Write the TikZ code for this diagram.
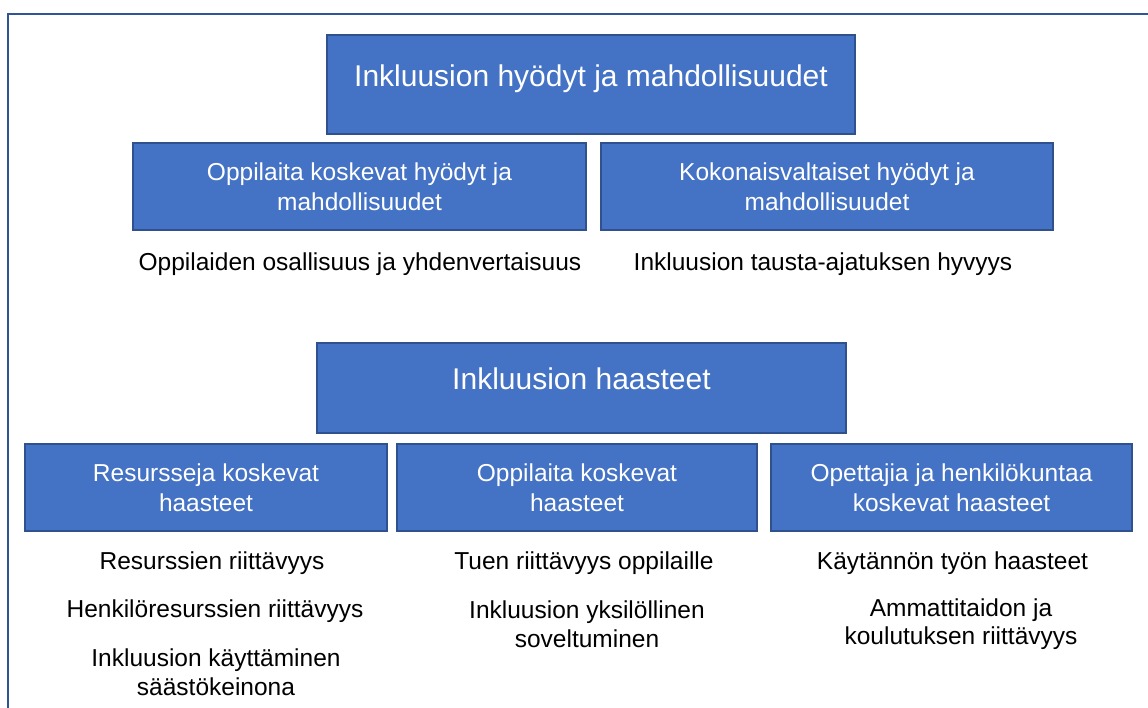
\documentclass[tikz,border=0pt]{standalone}
\usepackage{fontspec}
\setmainfont{Liberation Sans}
\definecolor{boxblue}{HTML}{4472C4}
\definecolor{boxedge}{HTML}{2F528F}
\definecolor{frameblue}{HTML}{2F5597}
\begin{document}
\begin{tikzpicture}[x=1pt,y=-1pt,
 box/.style={draw=boxedge,fill=boxblue,line width=1.6pt,text=white,align=center,inner sep=0pt,
  font=\fontsize{24.5}{29.5}\selectfont},
 headbox/.style={box,font=\fontsize{30}{36}\selectfont,text height=22pt,text depth=19pt},
 item/.style={align=center,inner sep=0pt,font=\fontsize{24.5}{28.5}\selectfont}]
 \useasboundingbox (0,0) rectangle (1148,707);
 \draw[frameblue,line width=2pt] (7.5,708)--(7.5,14)--(1149,14);
 \node[headbox,minimum width=528,minimum height=99] (hyodyt) at (591,84.5) {Inkluusion hyödyt ja mahdollisuudet};
 \node[box,minimum width=453,minimum height=87] (opphyo) at (359.5,186.5) {Oppilaita koskevat hyödyt ja\\mahdollisuudet};
 \node[box,minimum width=452,minimum height=87] (kokhyo) at (827,186.5) {Kokonaisvaltaiset hyödyt ja\\mahdollisuudet};
 \node[item] (osal) at (360,264) {Oppilaiden osallisuus ja yhdenvertaisuus};
 \node[item] (tausta) at (823,264) {Inkluusion tausta-ajatuksen hyvyys};
 \node[headbox,minimum width=529,minimum height=90] (haasteet) at (581.5,388) {Inkluusion haasteet};
 \node[box,minimum width=362,minimum height=87] (reshaa) at (206,487.5) {Resursseja koskevat\\haasteet};
 \node[box,minimum width=360,minimum height=87] (opphaa) at (577,487.5) {Oppilaita koskevat\\haasteet};
 \node[box,minimum width=361,minimum height=87] (opehaa) at (951.5,487.5) {Opettajia ja henkilökuntaa\\koskevat haasteet};
 \node[item] (resriit) at (212,563) {Resurssien riittävyys};
 \node[item] (henkriit) at (215,611) {Henkilöresurssien riittävyys};
 \node[item] (saasto) at (216,672) {Inkluusion käyttäminen\\säästökeinona};
 \node[item] (tuki) at (584,563) {Tuen riittävyys oppilaille};
 \node[item] (yksil) at (587,624) {Inkluusion yksilöllinen\\soveltuminen};
 \node[item] (tyo) at (952.5,563) {Käytännön työn haasteet};
 \node[item] (ammatti) at (961,624) {Ammattitaidon ja\\koulutuksen riittävyys};
\end{tikzpicture}
\end{document}
